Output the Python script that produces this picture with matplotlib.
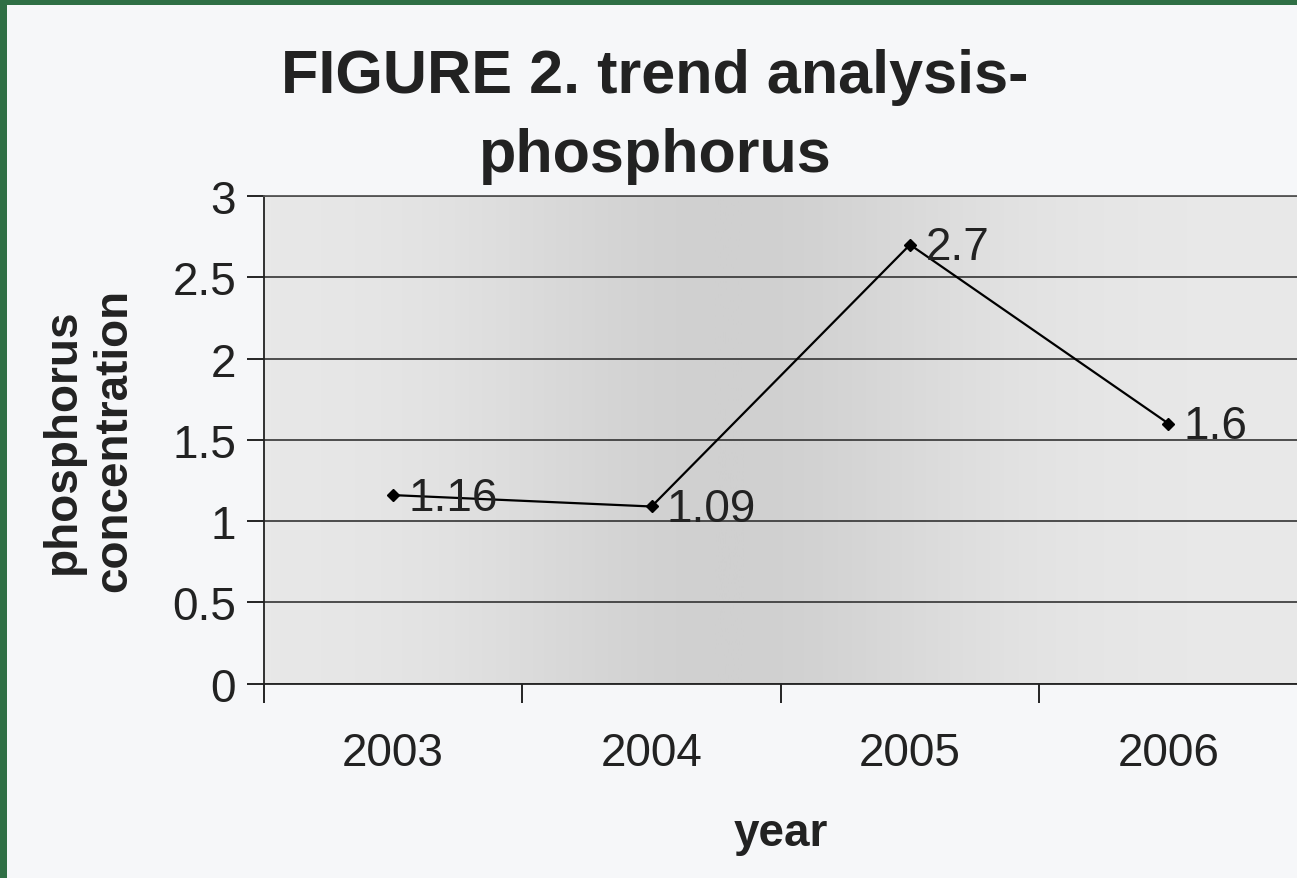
import matplotlib.pyplot as plt
import numpy as np
from matplotlib.colors import LinearSegmentedColormap
from matplotlib.patches import Rectangle

plt.rcParams["font.family"] = ["Liberation Sans", "DejaVu Sans"]

years = ["2003", "2004", "2005", "2006"]
phosphorus = [1.16, 1.09, 2.7, 1.6]
value_labels = ["1.16", "1.09", "2.7", "1.6"]
y_ticks = [0, 0.5, 1, 1.5, 2, 2.5, 3]
y_tick_labels = ["0", "0.5", "1", "1.5", "2", "2.5", "3"]

fig = plt.figure(figsize=(12.97, 8.79), dpi=100, facecolor="#f6f7f9")

# green slide frame on the left and top edge
fig.patches.append(Rectangle((0, 0), 0.0055, 1, transform=fig.transFigure,
                             fc="#2f6f45", ec="none", zorder=0))
fig.patches.append(Rectangle((0, 0.993), 1, 0.007, transform=fig.transFigure,
                             fc="#2f6f45", ec="none", zorder=0))

ax = fig.add_axes([0.2035, 0.221, 0.797, 0.555])
ax.set_facecolor("#e2e2e2")

# darker smudge band across the middle of the plot area (scan shading)
shade = LinearSegmentedColormap.from_list("shade", ["#e9e9e9", "#d0d0d0"])
grad = np.exp(-((np.linspace(0, 1, 400) - 0.45) / 0.25) ** 2)
ax.imshow(grad[None, :], extent=(0, 1, 0, 1), transform=ax.transAxes,
          cmap=shade, vmin=0, vmax=1, aspect="auto", zorder=0)

x = np.arange(len(years))
ax.plot(x, phosphorus, color="black", lw=1.6, marker="D", ms=6,
        mfc="black", mec="black", zorder=3)
for xi, yi, lab in zip(x, phosphorus, value_labels):
    ax.annotate(lab, (xi, yi), xytext=(11, -2), textcoords="offset points",
                ha="left", va="center", fontsize=33, color="#222222", zorder=4)

ax.set_xlim(-0.5, 3.5)
ax.set_ylim(0, 3)
ax.set_yticks(y_ticks)
ax.set_yticklabels(y_tick_labels, fontsize=33, color="#222222")
ax.yaxis.grid(True, color="#333333", lw=1.2)
ax.set_axisbelow(True)

ax.set_xticks(np.arange(-0.5, 4.0, 1.0))
ax.set_xticklabels([])
ax.set_xticks(x, minor=True)
ax.set_xticklabels(years, minor=True, fontsize=33, color="#222222")
ax.tick_params(axis="x", which="major", length=14, width=1.2, direction="out")
ax.tick_params(axis="x", which="minor", length=0, pad=34)
ax.tick_params(axis="y", length=12, width=1.2, pad=8)

for s in ax.spines.values():
    s.set_color("#222222")
    s.set_linewidth(1.3)
ax.spines["top"].set_color("#555555")
ax.spines["right"].set_color("#555555")

ax.set_xlabel("year", fontsize=33, fontweight="bold", labelpad=26, color="#222222")
ax.set_ylabel("phosphorus\nconcentration", fontsize=33, fontweight="bold",
              labelpad=26, color="#222222", linespacing=1.2)

fig.text(0.505, 0.789, "FIGURE 2. trend analysis-\nphosphorus", ha="center",
         va="bottom", fontsize=44, fontweight="bold", color="#222222",
         linespacing=1.5)

fig.savefig("out.png", dpi=100, facecolor=fig.get_facecolor())
